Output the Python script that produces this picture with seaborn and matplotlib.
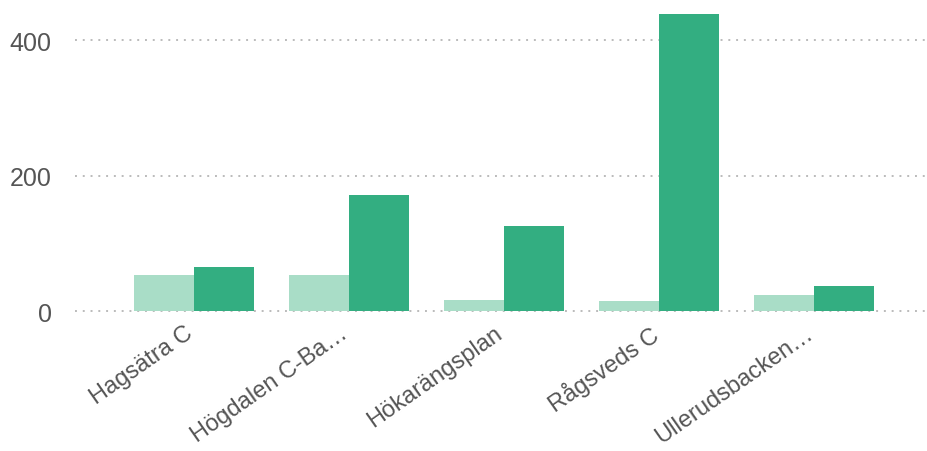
import pandas as pd
import matplotlib
matplotlib.use("Agg")
import matplotlib.pyplot as plt
import matplotlib.transforms as mtransforms
import seaborn as sns

# Data
categories = ["Hagsätra C", "Högdalen C-Ba…", "Hökarängsplan", "Rågsveds C", "Ullerudsbacken…"]
series_names = ["Serie 1", "Serie 2"]
values_light = [54, 54, 17, 15, 24]
values_dark = [65, 172, 126, 438, 37]
y_ticks = [0, 200, 400]

colors = ["#A9DDC7", "#33AE81"]

df = pd.DataFrame({
    "category": categories * 2,
    "series": [series_names[0]] * len(categories) + [series_names[1]] * len(categories),
    "value": values_light + values_dark,
})

sns.set_theme(style="white")
plt.rcParams["font.family"] = ["Liberation Sans", "DejaVu Sans"]

fig = plt.figure(figsize=(9.28, 4.52), dpi=100)
ax = fig.add_axes([0.081, 0.301, 0.919, 0.699])

sns.barplot(data=df, x="category", y="value", hue="series", palette=colors,
            width=0.774, gap=0, saturation=1, linewidth=0, legend=False,
            ax=ax, zorder=3)

ax.set_xlim(-0.768, 4.735)
ax.set_ylim(-5.5, 460.6)
ax.set_yticks(y_ticks)
ax.yaxis.grid(True, linestyle=(0, (1, 3)), color="#BBBBBB", linewidth=1.4, zorder=0)
ax.set_axisbelow(True)
for s in ax.spines.values():
    s.set_visible(False)

ax.set_xlabel("")
ax.set_ylabel("")
ax.tick_params(axis="y", length=0, pad=17, labelsize=18, labelcolor="#555555")
ax.tick_params(axis="x", length=0, pad=5, labelsize=17, labelcolor="#555555")
shift = mtransforms.ScaledTranslation(-10 / 100, 0, fig.dpi_scale_trans)
for lbl in ax.get_xticklabels():
    lbl.set_rotation(35)
    lbl.set_ha("right")
    lbl.set_rotation_mode("anchor")
    lbl.set_transform(lbl.get_transform() + shift)

fig.savefig("out.png", dpi=100)
plt.close(fig)
